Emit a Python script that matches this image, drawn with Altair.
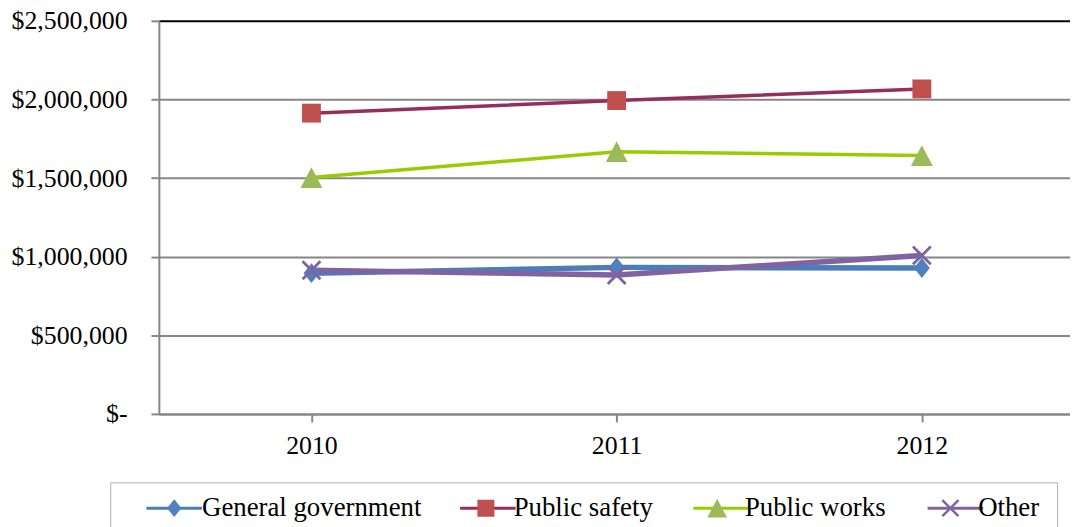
import sys
import altair as alt
import pandas as pd

# ---- data ----
YEARS = ["2010", "2011", "2012"]
SERIES = ["General government", "Public safety", "Public works", "Other"]
GENERAL_GOVERNMENT = [895000, 932000, 928000]
PUBLIC_SAFETY = [1913000, 1993000, 2067000]
PUBLIC_WORKS = [1503000, 1668000, 1643000]
OTHER = [914000, 883000, 1008000]
Y_TICKS = [0, 500000, 1000000, 1500000, 2000000, 2500000]

VALUES = [GENERAL_GOVERNMENT, PUBLIC_SAFETY, PUBLIC_WORKS, OTHER]
rows = []
for name, vals in zip(SERIES, VALUES):
    for yr, v in zip(YEARS, vals):
        rows.append({"year": yr, "series": name, "value": v})
df = pd.DataFrame(rows)

# ---- styling ----
LINE_COLORS = ["#4a7ebb", "#962d5f", "#99cc00", "#8064a2"]
MARKER_COLORS = ["#4f81bd", "#c0504d", "#9bbb59", "#8064a2"]
THICK = ["General government", "Other"]
FONT = "Liberation Serif"
GRID = "#868686"
NBSP = "\u00a0"

a = 2.0
MARKERS_PX = [
    [(0, -10), (8, 0), (0, 10), (-8, 0)],
    [(-9.5, -9.5), (9.5, -9.5), (9.5, 9.5), (-9.5, 9.5)],
    [(0, -10.5), (11, 10.5), (-11, 10.5)],
    [(-10 + a, -10), (0, -a), (10 - a, -10), (10, -10 + a), (a, 0), (10, 10 - a),
     (10 - a, 10), (0, a), (-10 + a, 10), (-10, 10 - a), (-a, 0), (-10, -10 + a)],
]

# legend geometry (line legend and marker legend must lay out identically)
LEG_W = 56                    # legend line length
LEG_SW = 3                    # legend line width
LEG_FS = 27                   # legend label size
MARK_LEG = 18.0               # legend marker box (px)
EXT = (LEG_W / 2.0 + LEG_SW) / (MARK_LEG / 2.0)   # invisible extent, in marker units
MARK_LABEL_OFFSET = 14.5      # label offset of the marker legend (calibrated)
MARK_SYMBOL_OFFSET = 16


def path(points):
    pts = [(x / 10.0, y / 10.0) for x, y in points]
    s = "M%.4f,0M%.4f,0" % (-EXT, EXT)
    s += "M%.4f,%.4f" % pts[0]
    for p in pts[1:]:
        s += "L%.4f,%.4f" % p
    return s + "Z"


chart_paths = [path(p) for p in MARKERS_PX]


def build(stage):
    common = dict(
        orient="none", legendX=-49, legendY=465, direction="horizontal",
        title=NBSP, titleOrient="left", titleFontSize=1, titlePadding=24,
        labelFont=FONT, labelFontSize=LEG_FS, labelLimit=500,
        columnPadding=35, padding=11, clipHeight=30,
    )
    leg_line = dict(
        symbolType="M-1,0H1", symbolSize=LEG_W * LEG_W, symbolStrokeWidth=LEG_SW,
        labelColor="transparent", labelOffset=0, strokeColor="#b0b0b0", zindex=1,
    )
    if stage < 1:
        leg_line["encode"] = {"legend": {"strokeWidth": {"value": 3}}}
    leg_mark = dict(
        symbolSize=MARK_LEG * MARK_LEG, symbolStrokeWidth=0,
        symbolOffset=MARK_SYMBOL_OFFSET, labelOffset=MARK_LABEL_OFFSET,
        labelColor="black", zindex=2,
    )
    x_enc = alt.X(
        "year:O",
        scale=alt.Scale(range=[0, 922.5], paddingInner=0, paddingOuter=0),
        axis=alt.Axis(
            title=None, labelAngle=0, bandPosition=0, grid=False,
            labelFont=FONT, labelFontSize=26, labelColor="black", labelPadding=11,
            tickSize=8, tickColor=GRID, tickWidth=2,
            domainColor=GRID, domainWidth=2,
        ),
    )
    y_enc = alt.Y(
        "value:Q",
        scale=alt.Scale(domain=[0, 2500000], nice=False),
        axis=alt.Axis(
            title=None, values=Y_TICKS,
            labelExpr="datum.value == 0 ? '$-' : '$' + format(datum.value, ',')",
            labelFont=FONT, labelFontSize=26, labelColor="black", labelPadding=24,
            tickSize=8, tickColor=GRID, tickWidth=2,
            domainColor=GRID, domainWidth=2,
            gridColor={"condition": {"test": "datum.value >= 2500000", "value": "black"}, "value": GRID},
            gridWidth=2,
        ),
    )
    thick_test = " || ".join("datum.series === '%s'" % s for s in THICK)
    lines = alt.Chart(df).mark_line().encode(
        x=x_enc, y=y_enc,
        stroke=alt.Stroke("series:N", sort=SERIES, scale=alt.Scale(range=LINE_COLORS),
                          legend=alt.Legend(**leg_line, **common)),
        strokeWidth=alt.condition(thick_test, alt.value(5.5), alt.value(3.5)),
    )
    points = alt.Chart(df).mark_point(filled=True, opacity=1, size=400).encode(
        x=x_enc, y=y_enc,
        fill=alt.Fill("series:N", scale=alt.Scale(domain=SERIES, range=MARKER_COLORS),
                      legend=alt.Legend(**leg_mark, **common)),
        shape=alt.Shape("series:N", scale=alt.Scale(domain=SERIES, range=chart_paths),
                        legend=alt.Legend(**leg_mark, **common)),
    )
    chart = (
        alt.layer(lines, points)
        .properties(
            width=918, height=396,
            autosize=alt.AutoSizeParams(type="none"),
            padding={"left": 152, "top": 11, "right": 0, "bottom": 112},
        )
        .configure_view(stroke=None)
        .configure(background="white")
    )
    chart.to_dict()
    return chart


chart = None
for stage in range(2):
    try:
        chart = build(stage)
        break
    except Exception as e:
        print("STAGE %d FAILED: " % stage + " | ".join(str(e).splitlines()[:6]), file=sys.stderr)

chart.save("out.html", embed_options={"renderer": "svg", "actions": False})
